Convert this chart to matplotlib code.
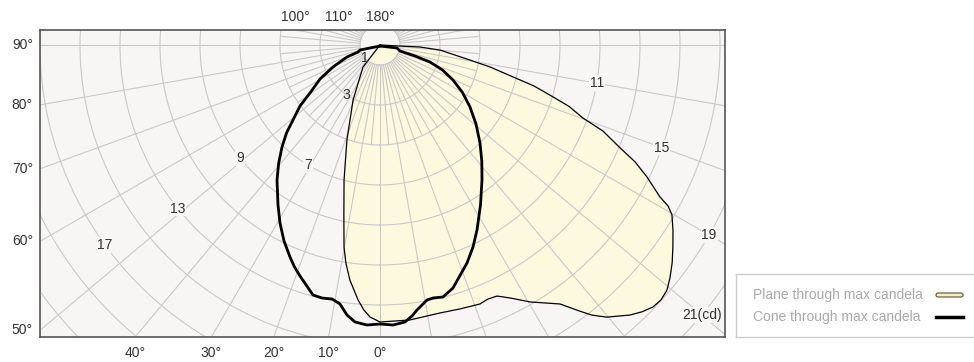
import numpy as np
import matplotlib
matplotlib.use('Agg')
from matplotlib import pyplot as plt
from matplotlib.patches import Polygon, FancyBboxPatch

plt.rcParams['font.family'] = ['Liberation Sans', 'DejaVu Sans']

# plane through max candela: gamma angle from nadir (deg) and intensity (cd)
plane_gamma = [-40, -37.7, -26.1, -19.2, -14.9, -12.0, -10.1, -8.9, -7.3, -4.9, -3.5, -2.1, 0,
               6.2, 12.6, 16.9, 21.1, 23.0, 25.0, 27.2, 30.3, 34.8, 36.9, 38.1, 39.8,
               42.8, 44.5, 46.2, 47.8, 49.5, 51.2, 53.3, 55.4, 57.7, 59.8, 60.8, 61.5,
               63.7, 65.4, 66.8, 68.9, 70.2, 72.0, 73.3, 75.1, 76.5, 78.7, 80.5, 85.2, 87.1, 90]
plane_cd = [0, 1.39, 3.06, 5.03, 6.99, 8.69, 10.26, 11.03, 11.85, 12.8, 13.27, 13.61, 13.85,
            13.83, 13.73, 13.79, 13.88, 13.8, 13.85, 14.22, 14.88, 15.77, 16.64, 17.16, 17.71,
            18.4, 18.7, 18.92, 18.97, 18.87, 18.6, 18.22, 17.79, 17.33, 16.89, 16.5, 15.93,
            14.89, 14.02, 13.06, 11.95, 10.79, 9.94, 9.03, 7.97, 6.84, 5.61, 4.56, 3.01, 2.0, 0]

# cone through max candela: horizontal / vertical components (cd)
cone_x = [0, -1.0, -1.1, -1.65, -2.35, -3.0, -3.5, -4.0, -4.35, -4.675, -4.9, -5.065,
          -5.15, -5.1, -5.0, -4.8, -4.5, -4.275, -4.0, -3.35, -2.9, -2.4, -2.0, -1.65,
          -1.25, -0.65, 0, 0.65, 1.25, 1.6, 1.85, 2.35, 2.65, 3.15, 3.65, 4.35, 4.65,
          4.85, 5.025, 5.1, 5.09, 5.0, 4.8, 4.5, 4.125, 3.65, 3.125, 2.5, 1.75, 1.0, 0.85, 0]
cone_y = [-0.05, -0.25, -0.35, -0.6, -1.1, -1.7, -2.4, -3.05, -3.75, -4.4, -5.1, -5.9,
          -6.75, -8.0, -8.9, -9.8, -10.6, -11.1, -11.55, -12.5, -12.65, -12.7, -12.95, -13.5,
          -13.85, -14.0, -13.95, -14.0, -13.85, -13.55, -13.25, -12.75, -12.65, -12.6, -12.15, -10.9, -10.1,
          -9.25, -8.0, -6.75, -5.8, -4.9, -3.95, -3.1, -2.375, -1.75, -1.25, -0.85, -0.55, -0.3, -0.15, -0.05]

circle_values = list(range(1, 25, 2))
left_ticks = [90, 80, 70, 60, 50]
bottom_ticks = [40, 30, 20, 10, 0]
top_ticks = [100, 110, 180]

label_values = [1, 3, 7, 9, 13, 17, 11, 15, 19, 21]
label_angles = [-48, -34, -31, -51, -51, -54, 80, 70, 60, 50]
label_texts = ['1', '3', '7', '9', '13', '17', '11', '15', '19', '21(cd)']

bg = '#f7f6f4'
fill = '#fdf9df'
grid = '#c9c9c9'
txt = '#333333'

fig = plt.figure(figsize=(9.74, 3.62), dpi=100)
ax = fig.add_axes([40 / 974, 25 / 362, 685 / 974, 307 / 362])
ax.set_facecolor(bg)
ax.set_xlim(-17, 17.25)
ax.set_ylim(-14.6, 0.75)
ax.set_xticks([])
ax.set_yticks([])
for s in ax.spines.values():
    s.set_color('#555555')
    s.set_linewidth(1.2)

# plane fill
g = np.radians(plane_gamma)
px = np.array(plane_cd) * np.sin(g)
py = -np.array(plane_cd) * np.cos(g)
ax.add_patch(Polygon(np.column_stack([px, py]), closed=True, facecolor=fill,
                     edgecolor='none', zorder=1))

# polar grid
t = np.linspace(0, 2 * np.pi, 720)
for r in circle_values:
    ax.plot(r * np.sin(t), -r * np.cos(t), color=grid, lw=0.8, zorder=2)
for a in range(0, 360, 10):
    ar = np.radians(a)
    ax.plot([np.sin(ar), 30 * np.sin(ar)], [-np.cos(ar), -30 * np.cos(ar)],
            color=grid, lw=0.8, zorder=2)
for a in range(5, 360, 10):
    ar = np.radians(a)
    ax.plot([np.sin(ar), 5 * np.sin(ar)], [-np.cos(ar), -5 * np.cos(ar)],
            color=grid, lw=0.8, zorder=2)

# outlines
ax.plot(np.append(px, px[0]), np.append(py, py[0]), color='black', lw=0.9, zorder=3,
        solid_joinstyle='round')
ax.plot(cone_x, cone_y, color='black', lw=2.0, zorder=4, solid_joinstyle='round')

# circle value labels
for v, a, s in zip(label_values, label_angles, label_texts):
    ar = np.radians(a)
    x, y = v * np.sin(ar), -v * np.cos(ar)
    ha = 'left' if s.endswith('(cd)') else 'center'
    if ha == 'left':
        x -= 0.99
    ax.text(x, y, s, fontsize=10, color=txt, ha=ha, va='center', zorder=5,
            bbox=dict(facecolor=bg if s not in ('1', '3') else 'none',
                      edgecolor='none', pad=0.6))

# angle labels
for a in left_ticks:
    y = -17 * np.cos(np.radians(a)) / np.sin(np.radians(a))
    y = max(y, -14.45)
    ax.text(-17.35, y, f'{a}°', fontsize=10, color=txt, ha='right', va='center')
for a in bottom_ticks:
    x = -14.6 * np.tan(np.radians(a))
    ax.text(x, -15.05, f'{a}°', fontsize=10, color=txt, ha='center', va='top')
for a in top_ticks:
    x = 0.75 * np.cos(np.radians(a - 90)) / np.sin(np.radians(a - 90))
    ax.text(-x, 1.05, f'{a}°', fontsize=10, color=txt, ha='center', va='bottom')

# legend box
lax = fig.add_axes([736 / 974, 25 / 362, 240 / 974, 63 / 362])
lax.set_xlim(0, 240)
lax.set_ylim(63, 0)
lax.set_xticks([])
lax.set_yticks([])
for s in lax.spines.values():
    s.set_color('#cccccc')
    s.set_linewidth(1.0)
lax.text(17, 21, 'Plane through max candela', fontsize=10, color='#aaaaaa', va='center')
lax.text(17, 43, 'Cone through max candela', fontsize=10, color='#aaaaaa', va='center')
lax.add_patch(FancyBboxPatch((200, 19), 27, 4, boxstyle='round,pad=0,rounding_size=2',
                             facecolor='#f6efc4', edgecolor='#6b6346', lw=0.9))
lax.plot([200, 227], [43, 43], color='black', lw=2.5)

fig.savefig('out.png', dpi=100)
